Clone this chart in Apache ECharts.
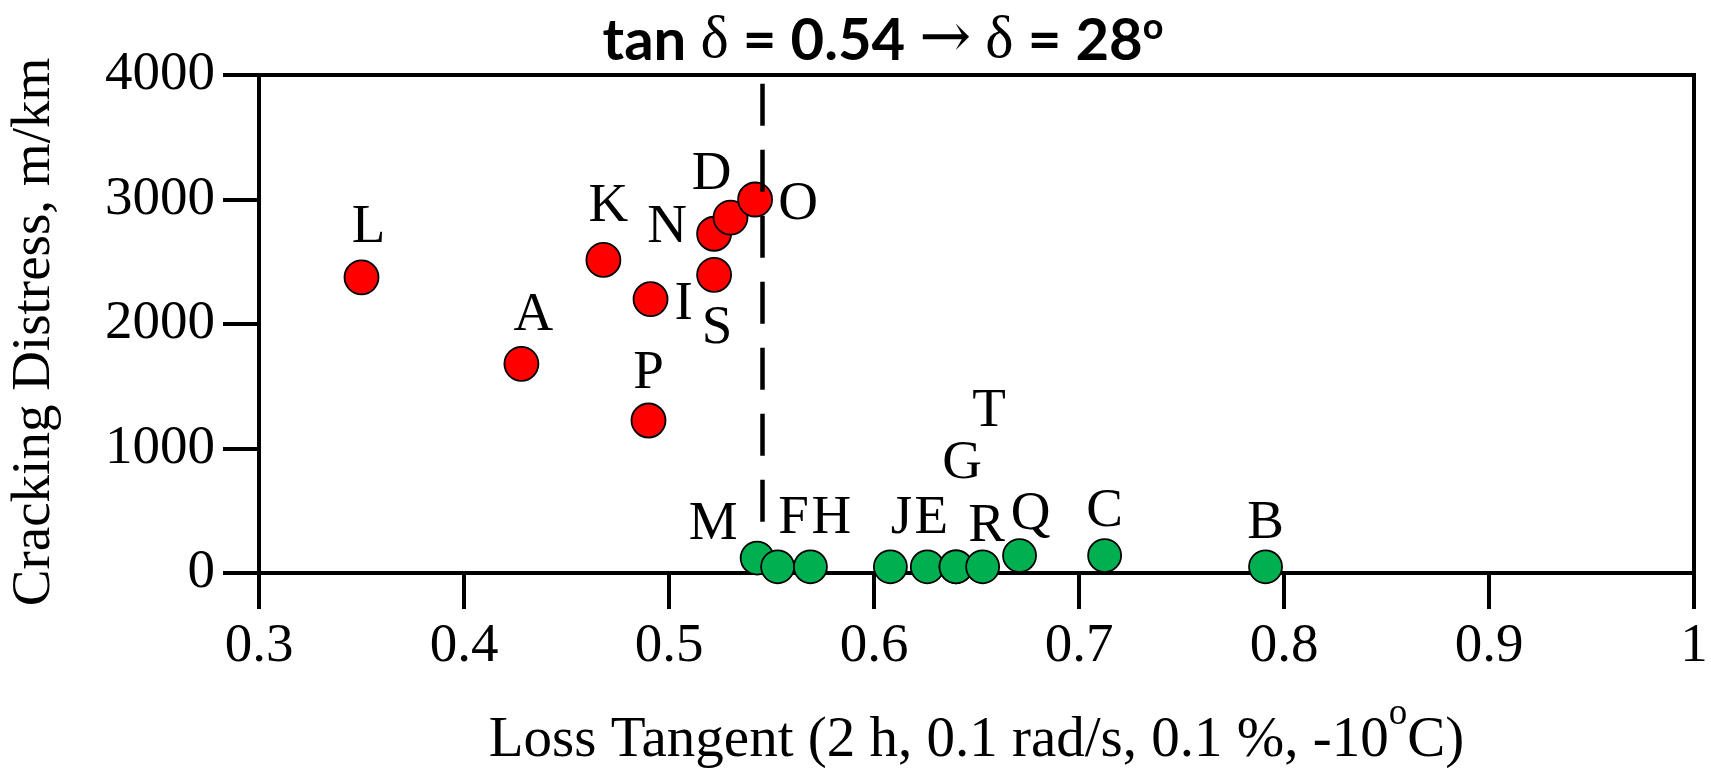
<!DOCTYPE html>
<html>
<head>
<meta charset="utf-8">
<script src="https://cdn.jsdelivr.net/npm/echarts@6/dist/echarts.min.js"></script>
<style>
  html, body { margin: 0; padding: 0; background: #fff; }
  #chart { width: 1711px; height: 768px; }
</style>
</head>
<body>
<div id="chart"></div>
<script>
// binders with high cracking (red) and low cracking (green)
const redNames = ['L', 'A', 'K', 'I', 'P', 'S', 'N', 'D', 'O'];
const redTan = [0.350, 0.428, 0.468, 0.491, 0.490, 0.522, 0.522, 0.530, 0.542];
const redDistress = [2375, 1680, 2515, 2200, 1225, 2395, 2725, 2855, 3000];

const greenNames = ['M', 'F', 'H', 'J', 'E', 'G', 'T', 'R', 'Q', 'C', 'B'];
const greenTan = [0.543, 0.553, 0.569, 0.608, 0.626, 0.640, 0.640, 0.653, 0.671, 0.7125, 0.791];
const greenDistress = [120, 50, 50, 50, 50, 50, 50, 50, 140, 140, 50];

const xTicks = [0.3, 0.4, 0.5, 0.6, 0.7, 0.8, 0.9, 1];
const yTicks = [0, 1000, 2000, 3000, 4000];

// threshold tan delta and the span of the dashed line
const cutoffTan = 0.5456;
const cutoffSpan = [3930, 400];

// where each letter sits relative to its marker (px)
const labelOffsets = {
  L: [7, -50], A: [12, -48], K: [5, -53], I: [33, 5], P: [0, -47],
  S: [3, 54], N: [-47, -6], D: [-19, -43], O: [43, 5],
  M: [-44, -33], F: [16, -48], H: [21, -48], J: [11, -48], E: [4, -48],
  G: [6, -103], T: [33, -155], R: [4, -40], Q: [11, -41], C: [0, -44], B: [0, -43]
};

const serif = 'Liberation Serif';

function buildPoints(names, xs, ys) {
  return names.map((n, i) => ({
    name: n,
    value: [xs[i], ys[i]],
    label: { offset: labelOffsets[n] }
  }));
}

const chart = echarts.init(document.getElementById('chart'));

const axisLine = { lineStyle: { color: '#000', width: 4 } };
const axisTick = { inside: false, length: 36, lineStyle: { color: '#000', width: 4 } };

const option = {
  animation: false,
  title: {
    text: '{b|tan }{g|δ}{b| = 0.54 }{a|→}{b| }{g|δ}{b| = 28}{sup|o}',
    left: 878,
    top: 4,
    textAlign: 'center',
    textStyle: {
      rich: {
        b: { fontFamily: 'Lato', fontWeight: 'bold', fontSize: 58, lineHeight: 64, color: '#000' },
        g: { fontFamily: serif, fontWeight: 'normal', fontSize: 60, lineHeight: 64, color: '#000' },
        a: { fontFamily: 'DejaVu Serif', fontWeight: 'normal', fontSize: 62, lineHeight: 64, color: '#000' },
        sup: { fontFamily: 'Lato', fontWeight: 'bold', fontSize: 36, lineHeight: 34, verticalAlign: 'top', color: '#000' }
      }
    }
  },
  grid: {
    left: 259, right: 17, top: 75, bottom: 195,
    outerBoundsMode: 'none',
    show: true, borderColor: '#000', borderWidth: 4, backgroundColor: 'transparent'
  },
  xAxis: {
    type: 'value',
    min: xTicks[0],
    max: xTicks[xTicks.length - 1],
    interval: 0.1,
    name: '{n|Loss Tangent (2 h, 0.1 rad/s, 0.1 %, -10}{sup|o}{n|C)}',
    nameLocation: 'middle',
    nameGap: 138,
    nameTextStyle: {
      rich: {
        n: { fontFamily: serif, fontSize: 57, lineHeight: 60, color: '#000' },
        sup: { fontFamily: serif, fontSize: 37, lineHeight: 6, padding: [0, 0, 54, 0], color: '#000' }
      }
    },
    axisLine: axisLine,
    axisTick: axisTick,
    splitLine: { show: false },
    axisLabel: {
      margin: 46,
      fontFamily: serif, fontSize: 55, color: '#000',
      formatter: v => String(Math.round(v * 10) / 10)
    }
  },
  yAxis: {
    type: 'value',
    min: yTicks[0],
    max: yTicks[yTicks.length - 1],
    interval: 1000,
    name: 'Cracking Distress, m/km',
    nameLocation: 'middle',
    nameGap: 194,
    nameTextStyle: { fontFamily: serif, fontSize: 55, lineHeight: 60, padding: [0, 16, 0, 0], color: '#000' },
    axisLine: axisLine,
    axisTick: axisTick,
    splitLine: { show: false },
    axisLabel: {
      margin: 44,
      fontFamily: serif, fontSize: 55, color: '#000',
      formatter: v => String(v)
    }
  },
  series: [
    {
      type: 'line',
      data: [],
      z: 1,
      silent: true,
      markLine: {
        symbol: 'none',
        silent: true,
        label: { show: false },
        lineStyle: { color: '#000', width: 4.5, type: [42, 24], dashOffset: 0 },
        data: [[
          { coord: [cutoffTan, cutoffSpan[0]] },
          { coord: [cutoffTan, cutoffSpan[1]] }
        ]]
      }
    },
    {
      type: 'scatter',
      z: 3,
      symbolSize: 34,
      itemStyle: { color: '#FF0000', borderColor: '#000', borderWidth: 1.8, opacity: 1 },
      label: {
        show: true, position: 'inside', formatter: '{b}',
        fontFamily: serif, fontSize: 55, color: '#000',
        align: 'center', verticalAlign: 'middle'
      },
      data: buildPoints(redNames, redTan, redDistress)
    },
    {
      type: 'scatter',
      z: 3,
      symbolSize: 33,
      itemStyle: { color: '#00B050', borderColor: '#000', borderWidth: 1.8, opacity: 1 },
      label: {
        show: true, position: 'inside', formatter: '{b}',
        fontFamily: serif, fontSize: 55, color: '#000',
        align: 'center', verticalAlign: 'middle'
      },
      data: buildPoints(greenNames, greenTan, greenDistress)
    }
  ]
};

chart.setOption(option);
</script>
</body>
</html>
